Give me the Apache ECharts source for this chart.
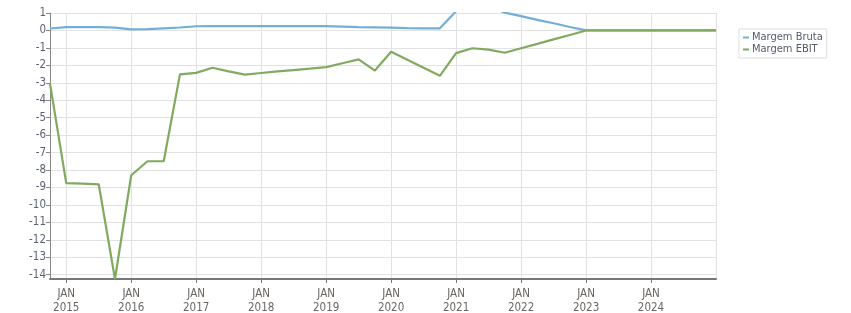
<!DOCTYPE html>
<html>
<head>
<meta charset="utf-8">
<script src="https://cdn.jsdelivr.net/npm/echarts@6/dist/echarts.min.js"></script>
<style>
html,body{margin:0;padding:0;background:#fff;}
#chart{width:851px;height:313px;}
</style>
</head>
<body>
<div id="chart"></div>
<script>
var categories = ['2014-10','2015-01','2015-04','2015-07','2015-10','2016-01','2016-04','2016-07','2016-10',
  '2017-01','2017-04','2017-07','2017-10','2018-01','2018-04','2018-07','2018-10',
  '2019-01','2019-04','2019-07','2019-10','2020-01','2020-04','2020-07','2020-10',
  '2021-01','2021-04','2021-07','2021-10','2022-01','2022-04','2022-07','2022-10',
  '2023-01','2023-04','2023-07','2023-10','2024-01','2024-04','2024-07','2024-10','2025-01'];

var margemBruta = [0.11,0.19,0.19,0.19,0.16,0.06,0.07,0.12,0.17,
  0.24,0.25,0.25,0.25,0.25,0.25,0.25,0.25,
  0.25,0.22,0.19,0.18,0.16,0.13,0.12,0.12,
  1.1,1.5,1.4,1.02,0.82,0.61,0.41,0.2,
  0,0,0,0,0,0,0,0,0];

var margemEbit = [-3.05,-8.75,-8.78,-8.82,-14.25,-8.3,-7.5,-7.5,-2.52,
  -2.43,-2.14,-2.35,-2.53,-2.44,-2.35,-2.27,-2.19,
  -2.1,-1.88,-1.66,-2.3,-1.22,-1.68,-2.14,-2.6,
  -1.3,-1.02,-1.1,-1.28,-1.02,-0.77,-0.51,-0.26,
  0,0,0,0,0,0,0,0,0];

var yTicks = [1,0,-1,-2,-3,-4,-5,-6,-7,-8,-9,-10,-11,-12,-13,-14];

var FONT = 'DejaVu Sans Condensed, DejaVu Sans, sans-serif';
function isJan(idx){ return categories[idx].slice(5) === '01'; }

var chart = echarts.init(document.getElementById('chart'), null, {renderer:'canvas'});
chart.setOption({
  animation: false,
  backgroundColor: '#ffffff',
  grid: {left: 50, right: 135, top: 13, bottom: 34, containLabel: false, outerBoundsMode: 'none'},
  legend: {
    orient: 'vertical',
    left: 739, top: 29,
    padding: [3, 4, 3, 4],
    itemGap: 1,
    itemWidth: 6, itemHeight: 2,
    icon: 'rect',
    borderColor: '#dddddd', borderWidth: 1,
    textStyle: {fontFamily: FONT, fontSize: 11, color: '#565a6a', padding: [0,0,0,-2]},
    data: ['Margem Bruta', 'Margem EBIT']
  },
  xAxis: {
    type: 'category',
    data: categories,
    boundaryGap: false,
    axisLine: {onZero: false, lineStyle: {color: '#777777', width: 2}},
    axisTick: {show: true, length: 4, lineStyle: {color: '#777777'},
      interval: function(idx){ return isJan(idx) && idx < categories.length - 1; }},
    axisLabel: {
      interval: function(idx){ return isJan(idx) && idx < categories.length - 1; },
      formatter: function(v){ return 'JAN\n' + v.slice(0,4); },
      fontFamily: FONT, fontSize: 11.5, color: '#6a6662', lineHeight: 14, margin: 8
    },
    splitLine: {show: true, interval: function(idx){ return isJan(idx); },
      lineStyle: {color: '#e2e2e2', width: 1}}
  },
  yAxis: {
    type: 'value',
    min: -14.25, max: 1,
    axisLine: {show: true, lineStyle: {color: '#888888', width: 1}},
    axisTick: {show: true, length: 4, lineStyle: {color: '#888888'}, customValues: yTicks},
    axisLabel: {customValues: yTicks, fontFamily: FONT, fontSize: 11.5, color: '#5c6272', margin: 4},
    splitLine: {show: true, lineStyle: {color: '#e2e2e2', width: 1}}
  },
  series: [
    {name: 'Margem Bruta', type: 'line', data: margemBruta, symbol: 'none', clip: true,
      lineStyle: {color: '#74aed6', width: 2.2}, itemStyle: {color: '#74aed6'}},
    {name: 'Margem EBIT', type: 'line', data: margemEbit, symbol: 'none', clip: true,
      lineStyle: {color: '#80aa60', width: 2.2}, itemStyle: {color: '#80aa60'}}
  ]
});
</script>
</body>
</html>
